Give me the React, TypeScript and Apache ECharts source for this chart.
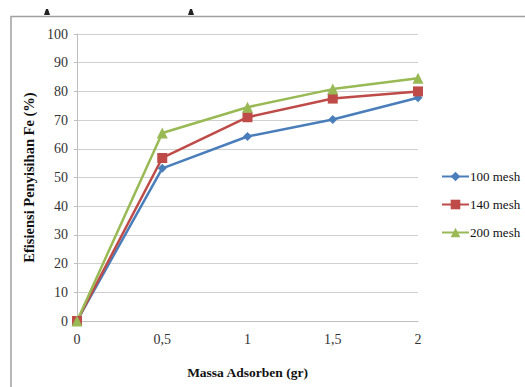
import React, { useEffect, useRef } from "react";
import * as echarts from "echarts";

const categories = ["0", "0,5", "1", "1,5", "2"];
const mesh100 = [0, 53.2, 64.3, 70.2, 77.8];
const mesh140 = [0, 56.8, 71.0, 77.5, 80.0];
const mesh200 = [0, 65.5, 74.5, 80.8, 84.6];
const seriesNames = ["100 mesh", "140 mesh", "200 mesh"];

const FONT = "Liberation Serif";

export default function App() {
  const ref = useRef<HTMLDivElement>(null);
  useEffect(() => {
    if (!ref.current) return;
    const chart = echarts.init(ref.current, null, { renderer: "svg" });
    const mk = (name: string, data: number[], color: string, symbol: string, size: number) => ({
      name,
      type: "line",
      data,
      symbol,
      symbolSize: size,
      showAllSymbol: true,
      lineStyle: { color, width: 2.5 },
      itemStyle: { color },
      emphasis: { disabled: true },
    });
    chart.setOption({
      animation: false,
      backgroundColor: "#ffffff",
      textStyle: { fontFamily: FONT },
      grid: { left: 77, right: 107, top: 34, bottom: 66 },
      xAxis: {
        type: "category",
        data: categories,
        boundaryGap: false,
        name: "Massa Adsorben (gr)",
        nameLocation: "middle",
        nameGap: 44,
        nameTextStyle: { fontFamily: FONT, fontSize: 13.5, fontWeight: "bold", color: "#111" },
        axisLine: { lineStyle: { color: "#bfbfbf", width: 1 } },
        axisTick: { show: false },
        axisLabel: { fontFamily: FONT, fontSize: 14, color: "#333", margin: 11 },
        splitLine: { show: false },
      },
      yAxis: {
        type: "value",
        min: 0,
        max: 100,
        interval: 10,
        name: "Efisiensi Penyisihan Fe (%)",
        nameLocation: "middle",
        nameGap: 33,
        nameTextStyle: { fontFamily: FONT, fontSize: 14.5, fontWeight: "bold", color: "#111" },
        axisLine: { show: true, lineStyle: { color: "#bfbfbf", width: 1 } },
        axisTick: { show: true, length: 3, lineStyle: { color: "#bfbfbf" } },
        axisLabel: { fontFamily: FONT, fontSize: 14, color: "#333", margin: 9 },
        splitLine: { show: true, lineStyle: { color: "#cfcfcf", width: 1 } },
      },
      legend: {
        orient: "vertical",
        left: 441,
        top: 170,
        padding: 0,
        itemWidth: 27,
        itemHeight: 12,
        itemGap: 15,
        textStyle: { fontFamily: FONT, fontSize: 13, color: "#111", padding: [0, 0, 0, -4] },
        data: seriesNames,
      },
      series: [
        mk(seriesNames[0], mesh100, "#4a7ebb", "diamond", 9),
        mk(seriesNames[1], mesh140, "#be4b48", "rect", 10),
        mk(seriesNames[2], mesh200, "#98b954", "triangle", 11),
      ],
      graphic: [
        {
          type: "polyline",
          shape: { points: [[11, 400], [11, 16.5], [530, 16.5]] },
          style: { stroke: "#a0a0a0", fill: "none", lineWidth: 1.5 },
          silent: true,
        },
        { type: "polygon", shape: { points: [[44, 15], [46, 9], [48, 9], [50, 15]] }, style: { fill: "#222" }, silent: true },
        { type: "polygon", shape: { points: [[188, 15], [190, 9], [192, 9], [194, 15]] }, style: { fill: "#222" }, silent: true },
      ],
    });
    return () => chart.dispose();
  }, []);
  return (
    <div
      ref={ref}
      style={{ position: "absolute", left: 0, top: 0, width: 525, height: 387 }}
    />
  );
}
